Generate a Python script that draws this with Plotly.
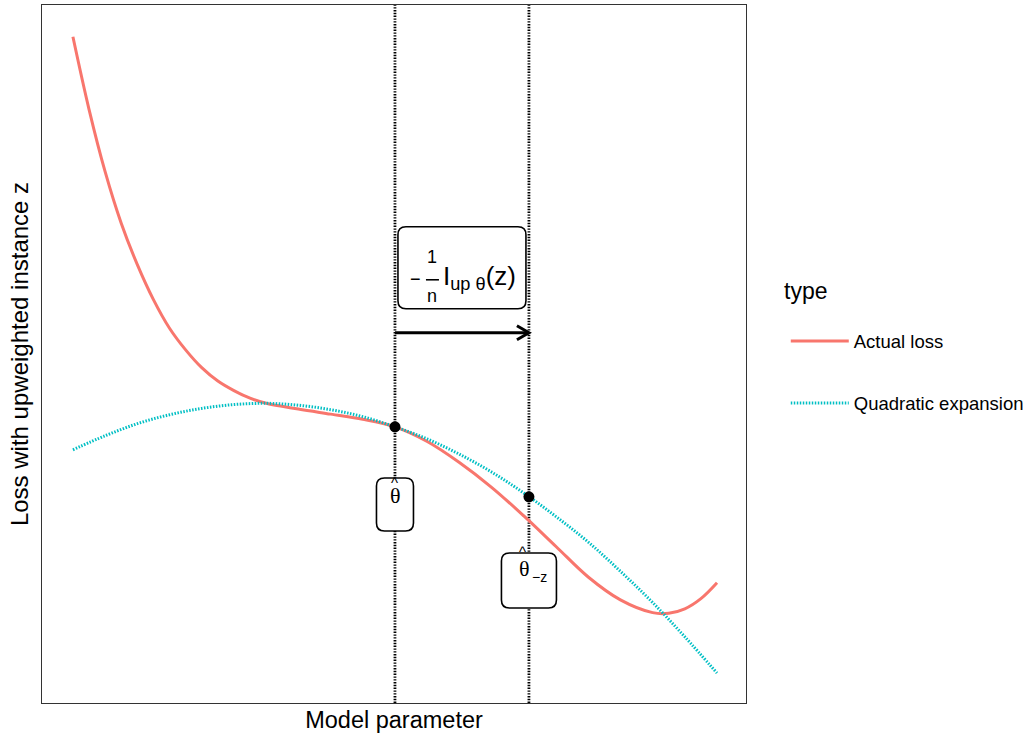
import plotly.graph_objects as go

# ---------------- data ----------------
loss_x = [0.0, 0.025, 0.05, 0.075, 0.1, 0.125, 0.15, 0.175, 0.2, 0.225, 0.25, 0.275, 0.3,
          0.35, 0.4, 0.45, 0.5, 0.55, 0.6, 0.65, 0.7, 0.75, 0.8, 0.85, 0.9, 0.925, 0.95, 0.975, 1.0]
loss_y = [1.000, 0.886, 0.788, 0.707, 0.642, 0.587, 0.542, 0.508, 0.480, 0.459, 0.444, 0.432, 0.424,
          0.415, 0.407, 0.399, 0.387, 0.364, 0.331, 0.292, 0.247, 0.199, 0.151, 0.115, 0.095, 0.094,
          0.101, 0.117, 0.142]

quad_x = [0.0, 0.05, 0.1, 0.15, 0.2, 0.25, 0.3, 0.35, 0.4, 0.45, 0.5,
          0.55, 0.6, 0.65, 0.7, 0.75, 0.8, 0.85, 0.9, 0.95, 1.0]
quad_y = [0.351, 0.373, 0.392, 0.406, 0.416, 0.422, 0.424, 0.421, 0.414, 0.403, 0.387,
          0.368, 0.344, 0.316, 0.283, 0.246, 0.206, 0.160, 0.111, 0.057, 0.000]

series_names = ["Actual loss", "Quadratic expansion"]
legend_title = "type"

theta_hat = 0.5          # parameter estimate
theta_minus_z = 0.708    # parameter after removing z
point_x = [theta_hat, theta_minus_z]
point_y = [0.387, 0.277]

x_title = "Model parameter"
y_title = "Loss with upweighted instance z"

# ---------------- layout constants ----------------
arrow_y = 0.535
frac_label_y = 0.637
hat_label_y = 0.265
hatz_label_y = 0.1455

RED = "#F8766D"
CYAN = "#00BFC4"
FONT = "Liberation Sans, Arial, sans-serif"
SERIF = "Liberation Serif, Times New Roman, serif"

fig = go.Figure()

fig.add_trace(go.Scatter(
    x=loss_x, y=loss_y, mode="lines", name=series_names[0],
    line=dict(color=RED, width=3, shape="spline", smoothing=1.0),
    legendgroup="a"))
fig.add_trace(go.Scatter(
    x=quad_x, y=quad_y, mode="lines", name=series_names[1],
    line=dict(color=CYAN, width=3, dash="1.5px,1.5px", shape="spline", smoothing=1.0),
    legendgroup="b"))
fig.add_trace(go.Scatter(
    x=point_x, y=point_y, mode="markers", showlegend=False,
    marker=dict(color="black", size=11), hoverinfo="skip"))


def rounded_box(cx, cy, w, h, r=8):
    path = (f"M {-w + r},{-h} L {w - r},{-h} Q {w},{-h} {w},{-h + r} "
            f"L {w},{h - r} Q {w},{h} {w - r},{h} L {-w + r},{h} Q {-w},{h} {-w},{h - r} "
            f"L {-w},{-h + r} Q {-w},{-h} {-w + r},{-h} Z")
    return dict(type="path", path=path, xref="x", yref="y",
                xsizemode="pixel", ysizemode="pixel", xanchor=cx, yanchor=cy,
                line=dict(color="black", width=1.6), fillcolor="white", layer="above")


shapes = []
# vertical dotted lines
for xv in point_x:
    shapes.append(dict(type="line", xref="x", yref="paper", x0=xv, x1=xv, y0=0, y1=1,
                       line=dict(color="black", width=2.8, dash="1.4px,1.4px"), layer="below"))

mid_x = (theta_hat + theta_minus_z) / 2
# label boxes
shapes.append(rounded_box(mid_x, frac_label_y, 64, 41))
shapes.append(rounded_box(theta_hat, hat_label_y, 18.5, 26.5))
shapes.append(rounded_box(theta_minus_z, hatz_label_y, 27.5, 27.5))

# arrow
shapes.append(dict(type="line", xref="x", yref="y", x0=theta_hat, x1=theta_minus_z,
                   y0=arrow_y, y1=arrow_y, line=dict(color="black", width=3), layer="above"))
shapes.append(dict(type="path", path="M -12,7 L 0,0 L -12,-7", xref="x", yref="y",
                   xsizemode="pixel", ysizemode="pixel", xanchor=theta_minus_z, yanchor=arrow_y,
                   line=dict(color="black", width=3), layer="above"))
# fraction bar
shapes.append(dict(type="path", path="M -36,-12 L -23,-12", xref="x", yref="y",
                   xsizemode="pixel", ysizemode="pixel", xanchor=mid_x, yanchor=frac_label_y,
                   line=dict(color="black", width=1.6), layer="above"))


def ann(text, x, y, dx, dy, size, family=FONT):
    return dict(text=text, x=x, y=y, xref="x", yref="y", xshift=dx, yshift=dy,
                showarrow=False, xanchor="center", yanchor="middle",
                font=dict(size=size, family=family, color="black"))


annotations = [
    ann("\u2212", mid_x, frac_label_y, -46, -11, 18),
    ann("1", mid_x, frac_label_y, -29.5, 11, 18),
    ann("n", mid_x, frac_label_y, -29.5, -28, 18),
    ann("I<sub>up \u03b8</sub>(z)", mid_x, frac_label_y, 18, -10, 26),
    ann("^", theta_hat, hat_label_y, 0, 21.5, 15),
    ann("\u03b8", theta_hat, hat_label_y, 1, 9, 22, SERIF),
    ann("^", theta_minus_z, hatz_label_y, -6.5, 29.5, 15),
    ann("\u03b8", theta_minus_z, hatz_label_y, -4.5, 12, 22, SERIF),
    ann("\u2212z", theta_minus_z, hatz_label_y, 11, 3.5, 14),
    dict(text=legend_title, x=1.051, y=0.590, xref="paper", yref="paper",
         xanchor="left", yanchor="middle", showarrow=False,
         font=dict(size=23, family=FONT, color="black")),
]

fig.update_layout(
    width=1034, height=736,
    margin=dict(l=42, r=284, t=5, b=33),
    paper_bgcolor="white", plot_bgcolor="white",
    font=dict(family=FONT, color="black"),
    shapes=shapes, annotations=annotations,
    showlegend=True,
    legend=dict(x=1.0565, y=0.4735, xanchor="left", yanchor="middle",
                font=dict(size=18.5), tracegroupgap=35, bgcolor="rgba(0,0,0,0)",
                itemwidth=58),
    xaxis=dict(range=[-0.048, 1.045], showticklabels=False, ticks="", showgrid=False,
               zeroline=False, showline=True, mirror=True, linecolor="#333333", linewidth=1.3,
               title=dict(text=x_title, font=dict(size=23.5), standoff=8), automargin=False),
    yaxis=dict(range=[-0.047, 1.050], showticklabels=False, ticks="", showgrid=False,
               zeroline=False, showline=True, mirror=True, linecolor="#333333", linewidth=1.3,
               title=dict(text=y_title, font=dict(size=24), standoff=5), automargin=False),
)

fig.write_html("out.html", config={"displayModeBar": False},
               post_script="document.body.style.margin='0px';")
